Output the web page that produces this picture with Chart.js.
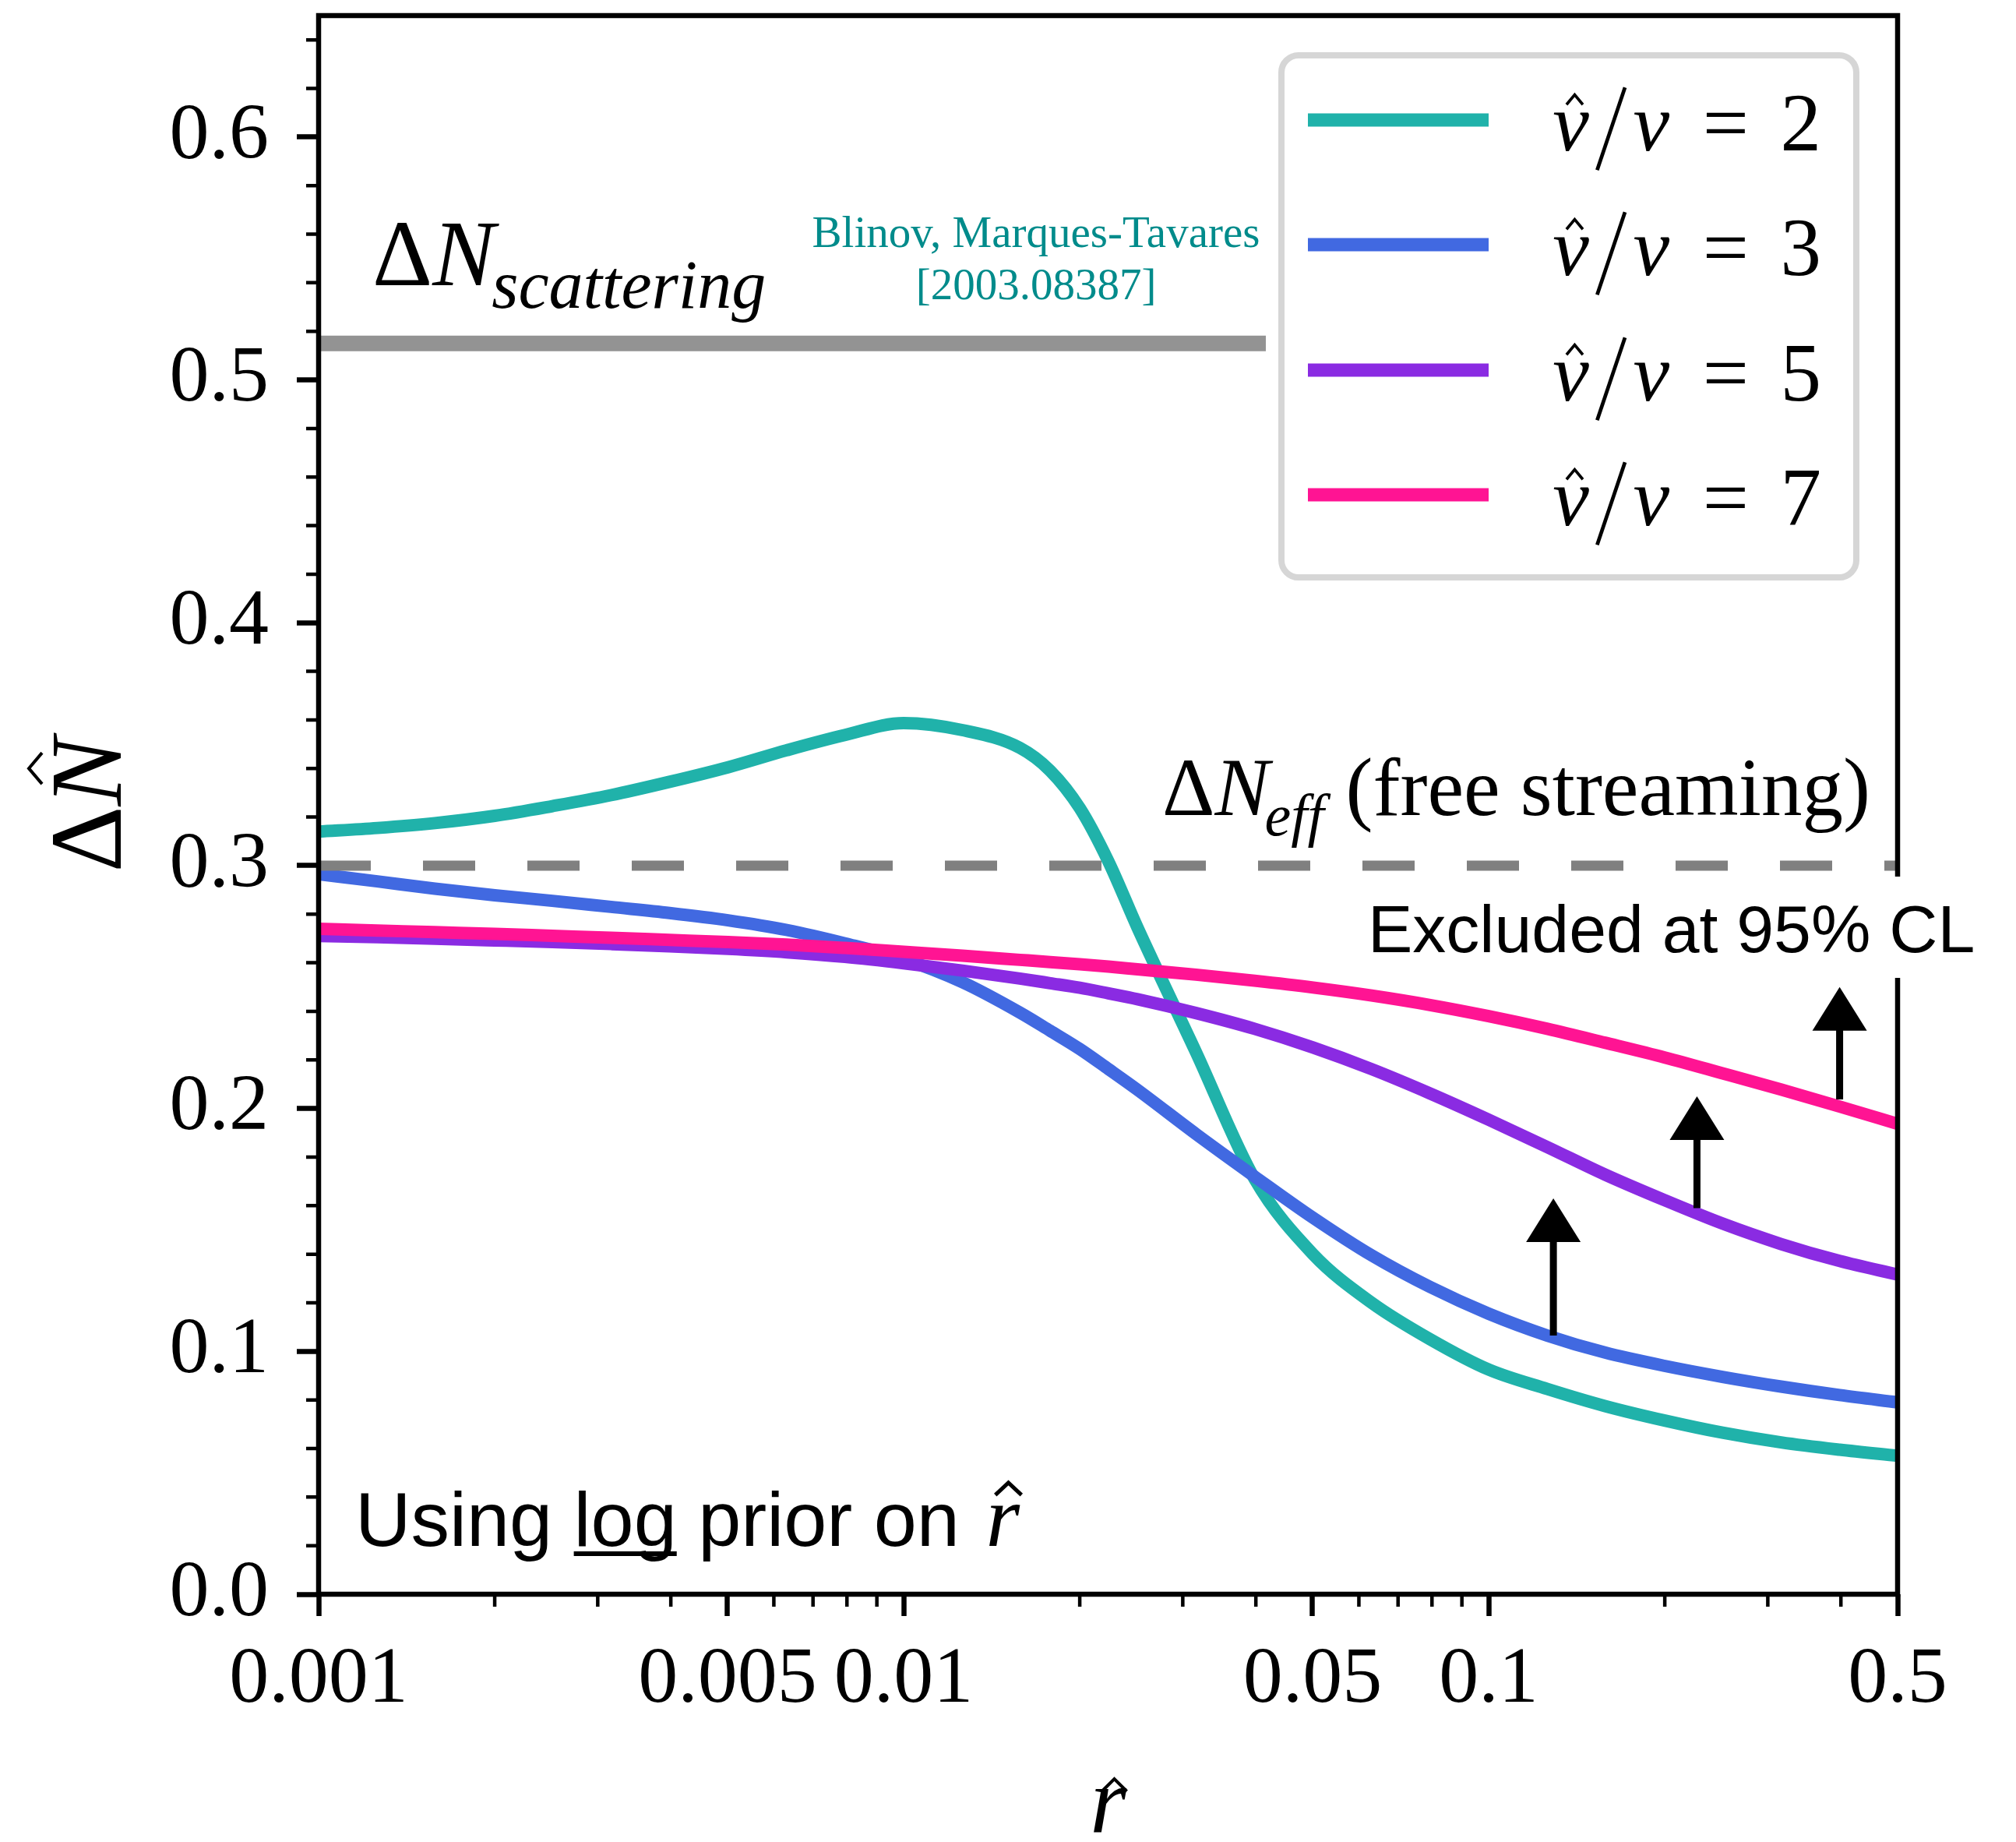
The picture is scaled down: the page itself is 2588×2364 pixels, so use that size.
<!DOCTYPE html>
<html>
<head>
<meta charset="utf-8">
<script src="https://cdn.jsdelivr.net/npm/chart.js@4.4.1/dist/chart.umd.min.js"></script>
<style>
  html, body { margin: 0; padding: 0; background: #fff; }
  canvas { display: block; }
</style>
</head>
<body>
<canvas id="canvas" width="2588" height="2364" style="width:2588px;height:2364px"></canvas>
<script>
// r-hat grid (roughly even in log r) and the four curves
const rHat = [0.001, 0.00126, 0.00158, 0.002, 0.00251, 0.00316, 0.00398, 0.00501, 0.00631, 0.00794,
              0.01, 0.0126, 0.0158, 0.0178, 0.02, 0.0224, 0.0251, 0.0316, 0.0398, 0.0501, 0.0631, 0.0794,
              0.1, 0.126, 0.158, 0.2, 0.251, 0.316, 0.398, 0.5];
const dN2 = [0.314, 0.3155, 0.3175, 0.3205, 0.3245, 0.329, 0.3345, 0.3405, 0.3475, 0.3538,
             0.3587, 0.3558, 0.3485, 0.3391, 0.3237, 0.3016, 0.2745, 0.2232, 0.171, 0.140, 0.120, 0.105,
             0.0925, 0.0845, 0.0775, 0.0715, 0.0665, 0.0625, 0.0595, 0.057];
const dN3 = [0.2965, 0.2935, 0.2905, 0.2878, 0.2855, 0.283, 0.2805, 0.2775, 0.2735, 0.268,
             0.2615, 0.252, 0.2395, 0.232, 0.2245, 0.2162, 0.2077, 0.1895, 0.172, 0.155, 0.1395, 0.1265,
             0.1155, 0.1065, 0.0995, 0.094, 0.0895, 0.0855, 0.082, 0.079];
const dN5 = [0.2710, 0.2705, 0.2699, 0.2692, 0.2685, 0.2677, 0.2668, 0.2657, 0.2643, 0.2624,
             0.2598, 0.2568, 0.2535, 0.2516, 0.2497, 0.2474, 0.2450, 0.2393, 0.2328, 0.2251, 0.2162, 0.2062,
             0.1954, 0.1841, 0.1728, 0.1622, 0.1526, 0.1442, 0.1372, 0.1316];
const dN7 = [0.274, 0.2733, 0.2726, 0.2719, 0.2711, 0.2703, 0.2694, 0.2685, 0.2675, 0.2661,
             0.2645, 0.2629, 0.2612, 0.2603, 0.2594, 0.2584, 0.2573, 0.2551, 0.2526, 0.2498, 0.2465, 0.2426,
             0.2380, 0.2328, 0.2271, 0.2210, 0.2145, 0.2078, 0.2008, 0.1937];
const ratios = ['2', '3', '5', '7'];

// reference levels
const scatterLevel = 0.515;
const scatterRange = [0.001, 0.0416];
const freeStreamLevel = 0.3;

// the hand-drawn arrows: position and extent
const arrowX = [0.129, 0.227, 0.398];
const arrowFrom = [0.1065, 0.159, 0.2037];
const arrowTo = [0.163, 0.205, 0.25];

// ticks
const xTickValues = [0.001, 0.005, 0.01, 0.05, 0.1, 0.5];
const xTickLabels = ['0.001', '0.005', '0.01', '0.05', '0.1', '0.5'];
const xMinorTicks = [0.002, 0.003, 0.004, 0.006, 0.007, 0.008, 0.009,
                     0.02, 0.03, 0.04, 0.06, 0.07, 0.08, 0.09, 0.2, 0.3, 0.4];
const yTickValues = [0, 0.1, 0.2, 0.3, 0.4, 0.5, 0.6];
const yTickLabels = ['0.0', '0.1', '0.2', '0.3', '0.4', '0.5', '0.6'];

const colors = ['#20b2aa', '#4169e1', '#8a2be2', '#ff1493'];
const SERIF = "'Liberation Serif', 'DejaVu Serif', serif";
const SANS = "'Liberation Sans', Arial, sans-serif";

const toPoints = (xs, ys) => xs.map((v, i) => ({x: v, y: ys[i]}));

function hat(ctx, cx, top, w, h, lw) {
    ctx.save();
    ctx.lineWidth = lw;
    ctx.lineJoin = 'miter';
    ctx.beginPath();
    ctx.moveTo(cx - w / 2, top + h);
    ctx.lineTo(cx, top);
    ctx.lineTo(cx + w / 2, top + h);
    ctx.stroke();
    ctx.restore();
}

// "v-hat / v = n" laid out in Computer-Modern-like slots
function drawRatioLabel(ctx, x, base, size, num) {
    const it = `italic ${size}px ${SERIF}`, rm = `${size}px ${SERIF}`;
    ctx.textAlign = 'center';
    ctx.textBaseline = 'alphabetic';
    ctx.font = it;
    ctx.fillText('v', x + 0.2425 * size, base);
    ctx.fillText('v', x + 1.2275 * size, base);
    hat(ctx, x + 0.29 * size, base - 0.68 * size, 0.2 * size, 0.12 * size, 0.035 * size);
    ctx.lineWidth = 0.045 * size;
    ctx.beginPath();
    ctx.moveTo(x + 0.735 * size - 0.17 * size, base + 0.24 * size);
    ctx.lineTo(x + 0.735 * size + 0.17 * size, base - 0.77 * size);
    ctx.stroke();
    ctx.font = rm;
    ctx.fillText('=', x + 2.137 * size, base);
    ctx.fillText(num, x + 3.054 * size, base);
}

const decor = {
    id: 'decor',
    afterDatasetsDraw(chart) {
        const {ctx, chartArea: a, scales: {x, y}} = chart;
        ctx.save();
        ctx.strokeStyle = '#000';
        ctx.lineWidth = 4.5;
        ctx.beginPath();
        for (let v = 0.02; v < 0.65; v += 0.02) {
            if (Math.abs(v * 10 - Math.round(v * 10)) < 1e-6) continue;
            const py = y.getPixelForValue(v);
            ctx.moveTo(a.left - 16, py);
            ctx.lineTo(a.left, py);
        }
        xMinorTicks.forEach(v => {
            const px = x.getPixelForValue(v);
            ctx.moveTo(px, a.bottom);
            ctx.lineTo(px, a.bottom + 16);
        });
        ctx.stroke();

        // arrows
        ctx.fillStyle = '#000';
        ctx.lineWidth = 9;
        arrowX.forEach((v, i) => {
            const px = x.getPixelForValue(v);
            const p0 = y.getPixelForValue(arrowFrom[i]);
            const p1 = y.getPixelForValue(arrowTo[i]);
            ctx.beginPath();
            ctx.moveTo(px, p0);
            ctx.lineTo(px, p1 + 40);
            ctx.stroke();
            ctx.beginPath();
            ctx.moveTo(px, p1);
            ctx.lineTo(px - 35, p1 + 56);
            ctx.lineTo(px + 35, p1 + 56);
            ctx.closePath();
            ctx.fill();
        });

        // frame
        ctx.lineWidth = 6.5;
        ctx.strokeRect(a.left, a.top, a.right - a.left, a.bottom - a.top);
        ctx.restore();
    },
    afterDraw(chart) {
        const {ctx, chartArea: a} = chart;
        ctx.save();
        ctx.fillStyle = '#000';
        ctx.strokeStyle = '#000';
        ctx.textBaseline = 'alphabetic';
        ctx.textAlign = 'left';

        // Delta N_scattering
        let cx = 478;
        ctx.font = `120px ${SERIF}`;
        ctx.fillText('Δ', cx, 366);
        cx += ctx.measureText('Δ').width;
        ctx.font = `italic 120px ${SERIF}`;
        ctx.fillText('N', cx, 366);
        cx += ctx.measureText('N').width - 4;
        ctx.font = `italic 88px ${SERIF}`;
        ctx.fillText('scattering', cx, 395);

        // citation
        ctx.fillStyle = '#008b8b';
        ctx.textAlign = 'center';
        ctx.font = `57px ${SERIF}`;
        ctx.fillText('Blinov, Marques-Tavares', 1330, 317);
        ctx.fillText('[2003.08387]', 1330, 384);

        // Delta N_eff (free streaming)
        ctx.fillStyle = '#000';
        ctx.textAlign = 'left';
        cx = 1492;
        ctx.font = `105px ${SERIF}`;
        ctx.fillText('Δ', cx, 1046);
        cx += ctx.measureText('Δ').width;
        ctx.font = `italic 105px ${SERIF}`;
        ctx.fillText('N', cx, 1046);
        cx += ctx.measureText('N').width - 6;
        ctx.font = `italic 76px ${SERIF}`;
        ctx.fillText('eff', cx, 1072);
        cx += ctx.measureText('eff').width + 28;
        ctx.font = `105px ${SERIF}`;
        ctx.fillText('(free streaming)', cx, 1046);

        // Excluded label on a white box (covers the right spine)
        ctx.fillStyle = '#fff';
        ctx.fillRect(1740, 1125, 830, 130);
        ctx.fillStyle = '#000';
        ctx.font = `86px ${SANS}`;
        ctx.fillText('Excluded at 95% CL', 1756, 1222);

        // Using log prior on r-hat
        cx = 456;
        ctx.font = `99px ${SANS}`;
        ctx.fillText('Using ', cx, 1984);
        cx += ctx.measureText('Using ').width;
        const lw = ctx.measureText('log').width;
        ctx.fillText('log', cx, 1984);
        ctx.fillRect(cx, 1991, lw, 6);
        cx += lw;
        ctx.fillText(' prior on ', cx, 1984);
        cx += ctx.measureText(' prior on ').width;
        ctx.font = `italic 112px ${SERIF}`;
        ctx.fillText('r', cx + 6, 1984);
        hat(ctx, cx + 6 + 0.26 * 112, 1903, 0.3 * 112, 0.14 * 112, 5);

        // y title: Delta N-hat, rotated
        ctx.save();
        ctx.translate(155, (a.top + a.bottom) / 2);
        ctx.rotate(-Math.PI / 2);
        ctx.font = `132px ${SERIF}`;
        const wD = ctx.measureText('Δ').width;
        ctx.font = `italic 132px ${SERIF}`;
        const wN = ctx.measureText('N').width;
        let tx = -(wD + wN) / 2;
        ctx.font = `132px ${SERIF}`;
        ctx.fillText('Δ', tx, 0);
        ctx.font = `italic 132px ${SERIF}`;
        ctx.fillText('N', tx + wD, 0);
        hat(ctx, tx + wD + wN * 0.55, -118, 40, 17, 4);
        ctx.restore();

        // x title: r-hat
        ctx.font = `italic 120px ${SERIF}`;
        ctx.textAlign = 'center';
        ctx.fillText('r', (a.left + a.right) / 2, 2352);
        hat(ctx, (a.left + a.right) / 2 + 8, 2283, 32, 16, 4);

        // legend
        ctx.textAlign = 'left';
        ctx.fillStyle = 'rgba(255,255,255,0.85)';
        ctx.strokeStyle = '#d6d6d6';
        ctx.lineWidth = 8;
        ctx.beginPath();
        ctx.roundRect(1645, 71, 738, 670, 22);
        ctx.fill();
        ctx.stroke();
        const rows = [154, 314, 475, 635];
        chart.data.datasets.slice(0, 4).forEach((ds, i) => {
            ctx.strokeStyle = ds.borderColor;
            ctx.lineWidth = 17;
            ctx.beginPath();
            ctx.moveTo(1679, rows[i]);
            ctx.lineTo(1911, rows[i]);
            ctx.stroke();
            ctx.fillStyle = '#000';
            ctx.strokeStyle = '#000';
            drawRatioLabel(ctx, 1991, rows[i] + 39, 105, ratios[i]);
        });
        ctx.restore();
    }
};

const curves = [dN2, dN3, dN5, dN7].map((vals, i) => ({
    label: 'v̂/v = ' + ratios[i],
    data: toPoints(rHat, vals),
    borderColor: colors[i],
    borderWidth: 16,
    pointRadius: 0,
    fill: false,
    cubicInterpolationMode: 'monotone',
    order: 4 - i,
}));

new Chart(document.getElementById('canvas'), {
    type: 'line',
    data: {
        datasets: [
            ...curves,
            {
                label: 'scattering',
                data: scatterRange.map(v => ({x: v, y: scatterLevel})),
                borderColor: '#939393',
                borderWidth: 20,
                pointRadius: 0,
                order: 6,
            },
            {
                label: 'free streaming',
                data: [{x: 0.001, y: freeStreamLevel}, {x: 0.5, y: freeStreamLevel}],
                borderColor: '#808080',
                borderWidth: 13,
                borderDash: [67, 67],
                pointRadius: 0,
                order: 0,
            },
        ],
    },
    options: {
        responsive: false,
        animation: false,
        devicePixelRatio: 1,
        layout: {padding: {left: 0, right: 152, top: 20, bottom: 0}},
        plugins: {legend: {display: false}, tooltip: {enabled: false}},
        scales: {
            x: {
                type: 'logarithmic',
                min: 0.001,
                max: 0.5,
                border: {display: false},
                grid: {drawOnChartArea: false, drawTicks: true, tickLength: 28, tickWidth: 6.5, tickColor: '#000'},
                afterBuildTicks: scale => { scale.ticks = xTickValues.map(v => ({value: v})); },
                afterFit: scale => {
                    scale.height = 318;
                    scale.paddingLeft = 0;
                    scale.paddingRight = 0;
                },
                ticks: {
                    autoSkip: false,
                    maxRotation: 0,
                    minRotation: 0,
                    padding: 22,
                    color: '#000',
                    font: {family: SERIF, size: 102},
                    callback: (value, index) => xTickLabels[index],
                },
            },
            y: {
                min: 0,
                max: 0.65,
                border: {display: false},
                grid: {drawOnChartArea: false, drawTicks: true, tickLength: 28, tickWidth: 6.5, tickColor: '#000'},
                afterBuildTicks: scale => { scale.ticks = yTickValues.map(v => ({value: v})); },
                afterFit: scale => {
                    scale.width = 409;
                    scale.paddingTop = 0;
                    scale.paddingBottom = 0;
                },
                ticks: {
                    padding: 36,
                    color: '#000',
                    font: {family: SERIF, size: 102},
                    callback: (value, index) => yTickLabels[index],
                },
            },
        },
    },
    plugins: [decor],
});
</script>
</body>
</html>
